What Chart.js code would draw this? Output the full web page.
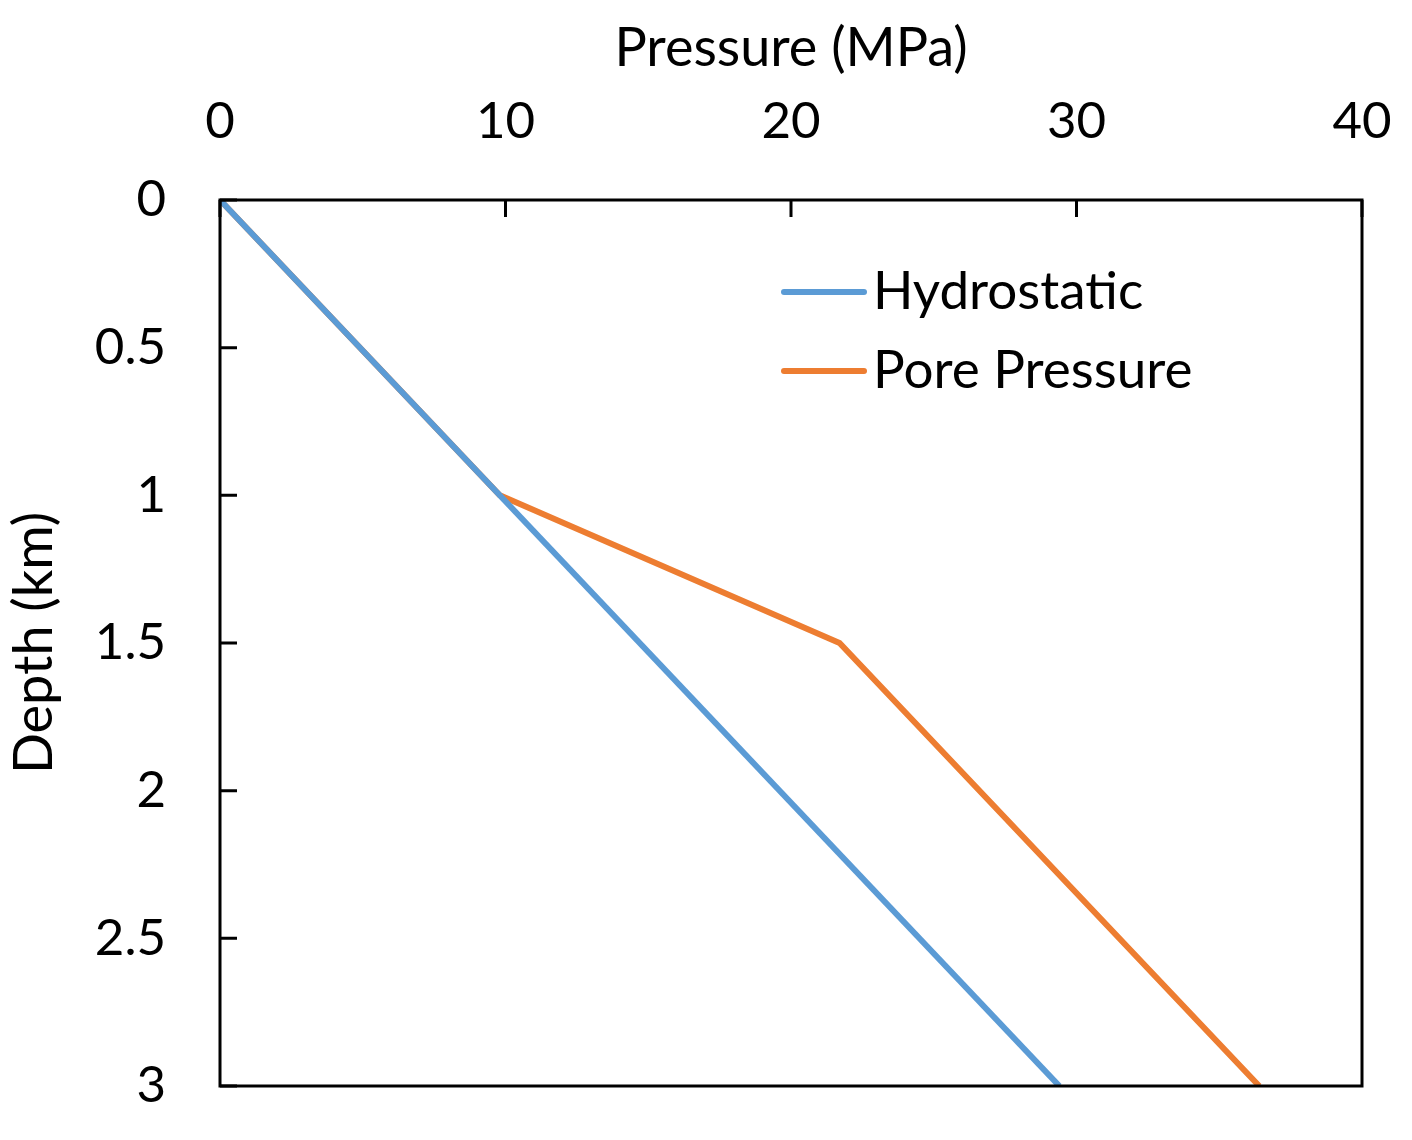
<!DOCTYPE html>
<html>
<head>
<meta charset="utf-8">
<script src="https://cdn.jsdelivr.net/npm/chart.js@4/dist/chart.umd.min.js"></script>
<style>
  html, body { margin: 0; padding: 0; background: #fff; }
  #wrap { width: 1412px; height: 1140px; }
</style>
</head>
<body>
<div id="wrap"><canvas id="chart"></canvas></div>
<script>
const hydroPressure = [0, 29.4];
const hydroDepth = [0, 3];
const porePressure = [0, 9.8, 21.7, 36.4];
const poreDepth = [0, 1, 1.5, 3];
const seriesNames = ['Hydrostatic', 'Pore Pressure'];
const seriesColors = ['#5B9BD5', '#ED7D31'];

const FONT = 'Lato';

const toPoints = (xs, ys) => xs.map((x, i) => ({ x: x, y: ys[i] }));

// frame, inward tick marks and the in-plot legend
const framePlugin = {
  id: 'frame',
  afterDraw(chart) {
    const { ctx, chartArea: a, scales } = chart;
    ctx.save();
    ctx.strokeStyle = '#000';
    ctx.lineWidth = 3;
    ctx.strokeRect(a.left, a.top, a.right - a.left, a.bottom - a.top);

    const tick = 17;
    ctx.beginPath();
    scales.x.ticks.forEach(t => {
      const px = scales.x.getPixelForValue(t.value);
      ctx.moveTo(px, a.top);
      ctx.lineTo(px, a.top + tick);
    });
    scales.y.ticks.forEach(t => {
      const py = scales.y.getPixelForValue(t.value);
      ctx.moveTo(a.left, py);
      ctx.lineTo(a.left + tick, py);
    });
    ctx.stroke();

    // legend
    const lx = 784, ly = [292, 371];
    ctx.lineWidth = 6;
    ctx.lineCap = 'round';
    ctx.font = '53px ' + FONT;
    ctx.textBaseline = 'middle';
    ctx.fillStyle = '#000';
    seriesNames.forEach((name, i) => {
      ctx.strokeStyle = seriesColors[i];
      ctx.beginPath();
      ctx.moveTo(lx, ly[i]);
      ctx.lineTo(lx + 80, ly[i]);
      ctx.stroke();
      ctx.fillText(name, lx + 89, ly[i]);
    });
    ctx.restore();
  }
};

new Chart(document.getElementById('chart'), {
  type: 'scatter',
  data: {
    datasets: [
      {
        label: seriesNames[0],
        data: toPoints(hydroPressure, hydroDepth),
        showLine: true,
        borderColor: seriesColors[0],
        backgroundColor: seriesColors[0],
        borderWidth: 6,
        pointRadius: 0,
      },
      {
        label: seriesNames[1],
        data: toPoints(porePressure, poreDepth),
        showLine: true,
        borderColor: seriesColors[1],
        backgroundColor: seriesColors[1],
        borderWidth: 6,
        pointRadius: 0,
      }
    ]
  },
  options: {
    responsive: true,
    maintainAspectRatio: false,
    animation: false,
    layout: {
      padding: { top: 0, left: 0, right: 50, bottom: 54 },
    },
    plugins: {
      legend: { display: false },
      tooltip: { enabled: false },
    },
    scales: {
      x: {
        type: 'linear',
        position: 'top',
        min: 0,
        max: 40,
        grid: { display: false },
        border: { display: false },
        ticks: {
          stepSize: 10,
          padding: 40,
          color: '#000',
          font: { family: FONT, size: 51 },
        },
        title: {
          display: true,
          text: 'Pressure (MPa)',
          color: '#000',
          font: { family: FONT, size: 54 },
          padding: { top: 16, bottom: 0 },
        },
        afterFit(scale) {
          scale.height = 200;
          scale.paddingLeft = 0;
          scale.paddingRight = 0;
        },
      },
      y: {
        type: 'linear',
        reverse: true,
        min: 0,
        max: 3,
        grid: { display: false },
        border: { display: false },
        ticks: {
          stepSize: 0.5,
          padding: 46,
          color: '#000',
          font: { family: FONT, size: 51 },
          callback: value => String(value),
        },
        title: {
          display: true,
          text: 'Depth (km)',
          color: '#000',
          font: { family: FONT, size: 54 },
          padding: { top: 2, bottom: 0 },
        },
        afterFit(scale) {
          scale.width = 220;
          scale.paddingTop = 0;
          scale.paddingBottom = 0;
        },
      },
    },
  },
  plugins: [framePlugin],
});
</script>
</body>
</html>
